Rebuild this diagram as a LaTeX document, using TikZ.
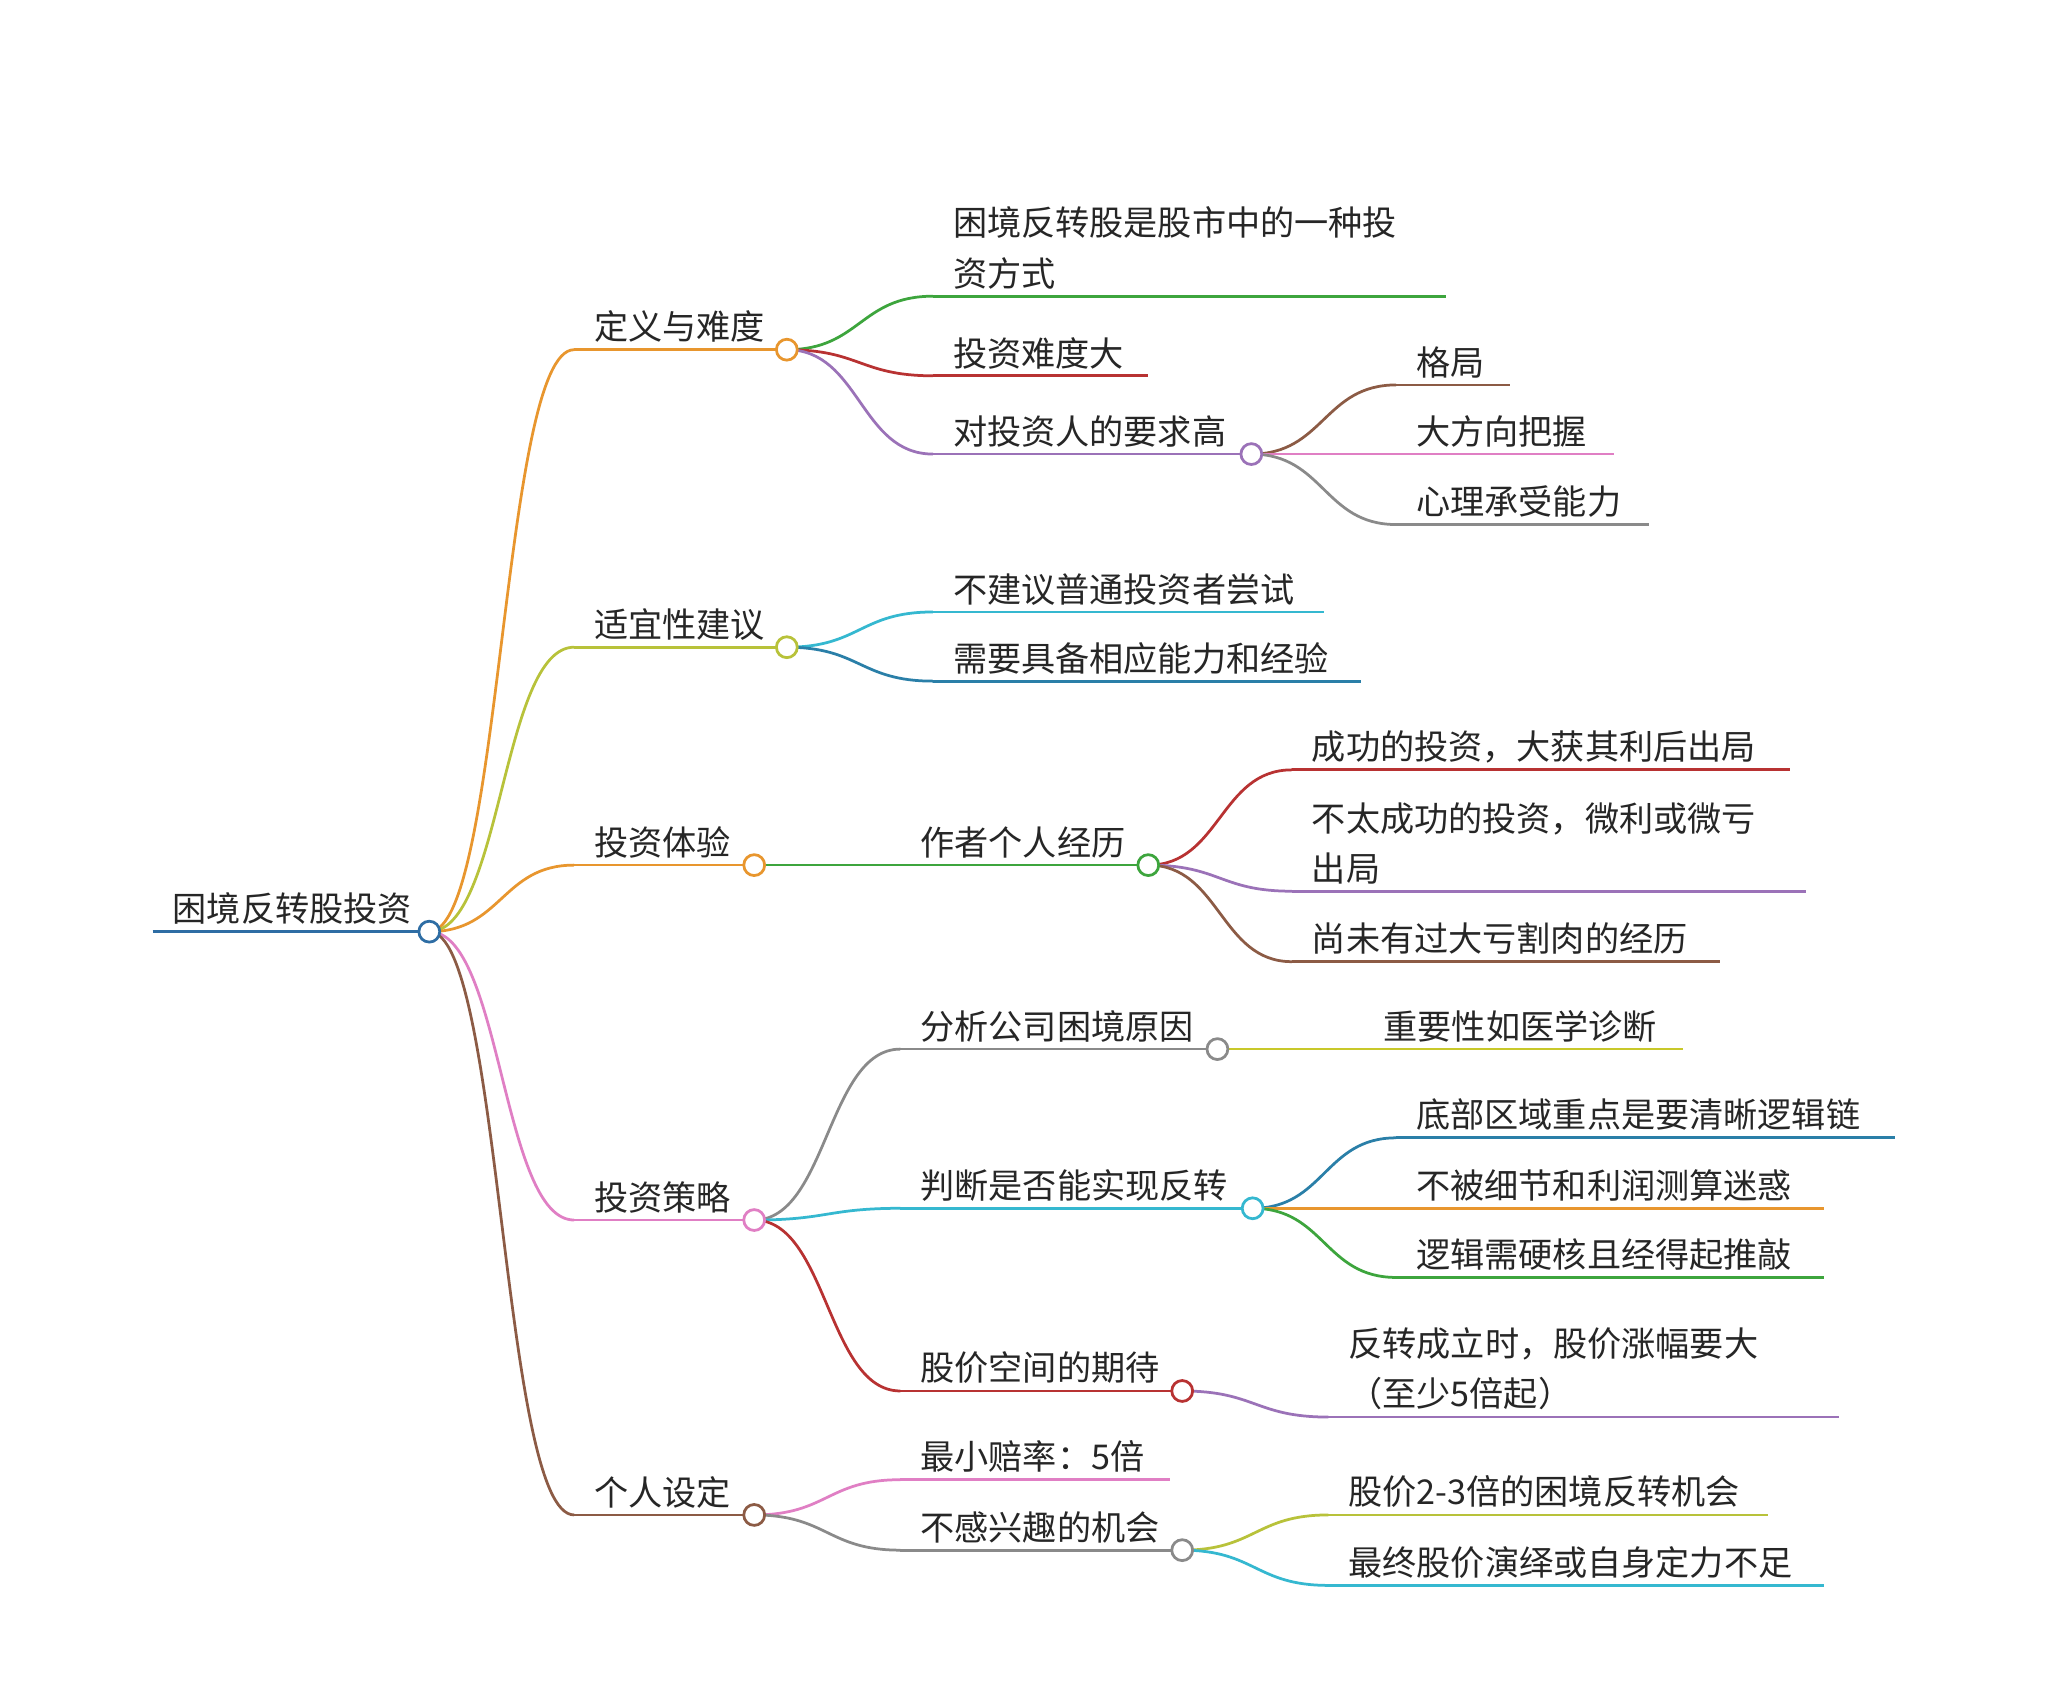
\documentclass[tikz,border=0pt]{standalone}
\usepackage{fontspec}
\setmainfont{Noto Sans CJK SC}
\usetikzlibrary{calc}
\definecolor{cblue}{HTML}{2E6DA4}
\definecolor{corg}{HTML}{E8962E}
\definecolor{cyg}{HTML}{B8C23A}
\definecolor{cpink}{HTML}{E07FC4}
\definecolor{cbrown}{HTML}{8C5B45}
\definecolor{cgreen}{HTML}{3DA53D}
\definecolor{cred}{HTML}{B83232}
\definecolor{cpurple}{HTML}{9B72B8}
\definecolor{cgray}{HTML}{8A8A8A}
\definecolor{ccyan}{HTML}{35B8D0}
\definecolor{cteal}{HTML}{2A7FA8}
\definecolor{colive}{HTML}{C8C82A}
\tikzset{ln/.style={line width=1.2pt},
 txt/.style={inner sep=0pt,font=\fontsize{14.9}{22}\selectfont,align=left,text=black!85},
 dot/.style={circle,fill=white,line width=1.2pt,minimum size=0.32cm,inner sep=0pt}}
\newcommand\leaf[6]{%
 \coordinate (#1s) at (#2,#4); \coordinate (#1e) at (#3,#4);
 \draw[#5,ln] (#1s) -- (#1e);
 \node[txt,anchor=south west] (#1) at ($(#1s)+(15,-5)$) {#6};}
\newcommand\conn[3]{%
 \coordinate (m#2) at ($(#1e)!0.5!(#2s)$);
 \draw[#3,ln] (#1e) .. controls (m#2 |- #1e) and (m#2 |- #2s) .. (#2s);}
\newcommand\mdot[2]{\node[dot,draw=#2] (#1c) at (#1e) {};}
\begin{document}
\begin{tikzpicture}[x=0.02cm,y=-0.02cm]
\useasboundingbox[fill=white] (0,0) rectangle (1568,1300);
\leaf{r}{117}{329}{714}{cblue}{困境反转股投资}
% level 1
\leaf{a}{440}{603}{268}{corg}{定义与难度}
\leaf{b}{440}{603}{496}{cyg}{适宜性建议}
\leaf{c}{440}{578}{663}{corg}{投资体验}
\leaf{d}{440}{578}{935}{cpink}{投资策略}
\leaf{e}{440}{578}{1161}{cbrown}{个人设定}
\conn{r}{a}{corg}\conn{r}{b}{cyg}\conn{r}{c}{corg}\conn{r}{d}{cpink}\conn{r}{e}{cbrown}
% a
\leaf{a1}{715}{1108}{227}{cgreen}{困境反转股是股市中的一种投\\资方式}
\leaf{a2}{715}{880}{288}{cred}{投资难度大}
\leaf{a3}{715}{959}{348}{cpurple}{对投资人的要求高}
\conn{a}{a1}{cgreen}\conn{a}{a2}{cred}\conn{a}{a3}{cpurple}
\leaf{a31}{1070}{1157}{295}{cbrown}{格局}
\leaf{a32}{1070}{1237}{348}{cpink}{大方向把握}
\leaf{a33}{1070}{1264}{402}{cgray}{心理承受能力}
\conn{a3}{a31}{cbrown}\conn{a3}{a32}{cpink}\conn{a3}{a33}{cgray}
% b
\leaf{b1}{715}{1015}{469}{ccyan}{不建议普通投资者尝试}
\leaf{b2}{715}{1043}{522}{cteal}{需要具备相应能力和经验}
\conn{b}{b1}{ccyan}\conn{b}{b2}{cteal}
% c
\leaf{c1}{690}{880}{663}{cgreen}{作者个人经历}
\draw[cgreen,ln] (ce) -- (c1s);
\leaf{c11}{990}{1372}{590}{cred}{成功的投资，大获其利后出局}
\leaf{c12}{990}{1384}{683}{cpurple}{不太成功的投资，微利或微亏\\出局}
\leaf{c13}{990}{1318}{737}{cbrown}{尚未有过大亏割肉的经历}
\conn{c1}{c11}{cred}\conn{c1}{c12}{cpurple}\conn{c1}{c13}{cbrown}
% d
\leaf{d1}{690}{933}{804}{cgray}{分析公司困境原因}
\leaf{d2}{690}{960}{926}{ccyan}{判断是否能实现反转}
\leaf{d3}{690}{906}{1066}{cred}{股价空间的期待}
\conn{d}{d1}{cgray}\conn{d}{d2}{ccyan}\conn{d}{d3}{cred}
\leaf{d11}{1045}{1290}{804}{colive}{重要性如医学诊断}
\draw[colive,ln] (d1e) -- (d11s);
\leaf{d21}{1070}{1452}{872}{cteal}{底部区域重点是要清晰逻辑链}
\leaf{d22}{1070}{1398}{926}{corg}{不被细节和利润测算迷惑}
\leaf{d23}{1070}{1398}{979}{cgreen}{逻辑需硬核且经得起推敲}
\conn{d2}{d21}{cteal}\conn{d2}{d22}{corg}\conn{d2}{d23}{cgreen}
\leaf{d31}{1018}{1409}{1086}{cpurple}{反转成立时，股价涨幅要大\\（至少5倍起）}
\conn{d3}{d31}{cpurple}
% e
\leaf{e1}{690}{897}{1134}{cpink}{最小赔率：5倍}
\leaf{e2}{690}{906}{1188}{cgray}{不感兴趣的机会}
\conn{e}{e1}{cpink}\conn{e}{e2}{cgray}
\leaf{e21}{1018}{1355}{1161}{cyg}{股价2-3倍的困境反转机会}
\leaf{e22}{1018}{1398}{1215}{ccyan}{最终股价演绎或自身定力不足}
\conn{e2}{e21}{cyg}\conn{e2}{e22}{ccyan}
% dots
\mdot{r}{cblue}\mdot{a}{corg}\mdot{b}{cyg}\mdot{c}{corg}\mdot{d}{cpink}\mdot{e}{cbrown}
\mdot{a3}{cpurple}\mdot{c1}{cgreen}\mdot{d1}{cgray}\mdot{d2}{ccyan}\mdot{d3}{cred}\mdot{e2}{cgray}
\end{tikzpicture}
\end{document}
